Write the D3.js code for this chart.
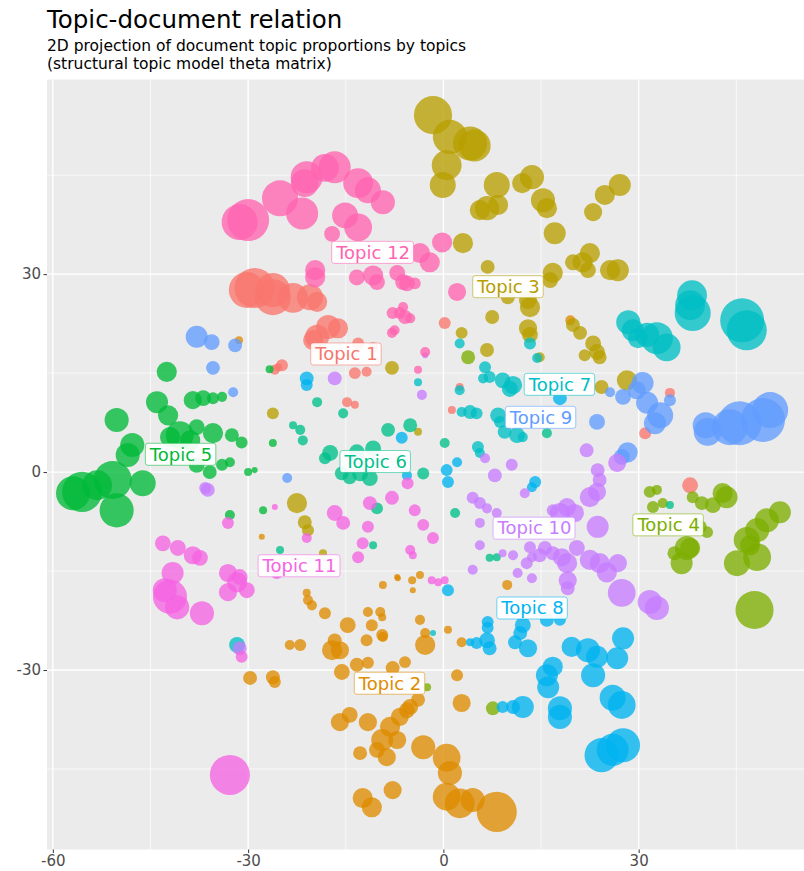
<!DOCTYPE html>
<html>
<head>
<meta charset="utf-8">
<script src="https://cdn.jsdelivr.net/npm/d3@7"></script>
<style>
  html, body { margin: 0; padding: 0; background: #ffffff; }
  svg { display: block; font-family: "DejaVu Sans", sans-serif; }
</style>
</head>
<body>
<svg id="chart" width="804" height="871"></svg>
<script>
// Document positions per topic: [x, y, topic proportion]
const topic1 = [
  [-29.0, 27.9, 0.83], [-30.2, 27.6, 0.67], [-26.2, 26.5, 0.67], [-26.2, 27.6, 0.60],
  [-23.1, 26.4, 0.46], [-20.5, 26.5, 0.35], [-19.4, 25.8, 0.21], [-19.4, 20.5, 0.30],
  [-17.7, 22.0, 0.30], [-16.2, 21.8, 0.21], [-20.0, 20.0, 0.21], [-13.1, 19.5, 0.074],
  [-10.8, 18.9, 0.052], [-24.8, 16.2, 0.074], [-25.9, 15.5, 0.052], [-13.6, 15.0, 0.074],
  [-11.8, 15.2, 0.052], [-14.8, 10.6, 0.052], [-13.6, 10.2, 0.033], [0.2, 22.6, 0.074],
  [34.8, 12.0, 0.052], [31.0, 5.9, 0.074], [37.9, -2.0, 0.13], [1.3, 9.4, 0.033],
  [2.5, 12.9, 0.033], [-25.4, 15.9, 0.033]
];
const topic2 = [
  [-31.4, 20.0, 0.033], [-27.9, -9.8, 0.019], [-9.3, -17.1, 0.033], [-7.1, -15.9, 0.019],
  [-21.0, -18.3, 0.033], [-20.8, -19.4, 0.052], [-20.2, -20.2, 0.052], [-18.2, -21.4, 0.074],
  [-14.7, -23.2, 0.13], [-16.7, -25.5, 0.10], [-17.1, -27.0, 0.21], [-15.9, -27.0, 0.17],
  [-15.6, -30.3, 0.13], [-11.6, -21.2, 0.052], [-11.0, -23.2, 0.074], [-9.7, -21.2, 0.052],
  [-9.4, -24.7, 0.074], [-11.8, -25.5, 0.074], [-13.3, -29.2, 0.10], [-11.6, -28.9, 0.074],
  [-7.8, -29.7, 0.10], [-5.9, -28.8, 0.074], [-29.7, -31.2, 0.10], [-26.2, -31.1, 0.10],
  [-25.9, -31.8, 0.074], [-23.6, -26.2, 0.052], [-22.0, -26.2, 0.074], [-15.9, -37.9, 0.17],
  [-14.4, -36.8, 0.13], [-11.6, -37.9, 0.17], [-12.8, -42.6, 0.10], [-8.2, -38.6, 0.21],
  [-7.1, -40.6, 0.17], [-8.7, -43.2, 0.17], [-10.2, -42.1, 0.13], [-5.6, -36.1, 0.13],
  [-6.7, -37.1, 0.17], [-5.1, -35.6, 0.13], [-3.9, -34.5, 0.10], [-9.4, -40.6, 0.25],
  [-3.1, -41.7, 0.30], [-7.8, -48.2, 0.17], [-12.4, -49.4, 0.21], [-11.0, -50.8, 0.21],
  [0.5, -43.3, 0.40], [1.0, -45.6, 0.30], [0.5, -49.2, 0.40], [2.5, -50.2, 0.46],
  [4.5, -49.7, 0.30], [8.2, -51.5, 0.83], [-4.8, -16.4, 0.033], [-3.6, -15.6, 0.033],
  [-4.7, -17.9, 0.019], [-7.0, -16.1, 0.019], [-3.6, -22.4, 0.052], [-2.8, -24.4, 0.052],
  [-2.8, -26.2, 0.21], [-9.4, -22.0, 0.033], [0.7, -23.9, 0.033], [2.8, -25.8, 0.052],
  [2.1, -30.8, 0.074], [2.8, -35.0, 0.17], [9.8, -17.1, 0.052], [19.5, 23.0, 0.052],
  [-9.3, -25.0, 0.052]
];
const topic3 = [
  [-1.6, 54.1, 0.75], [1.0, 50.8, 0.60], [4.1, 49.8, 0.60], [4.8, 49.5, 0.53],
  [0.5, 46.5, 0.46], [-0.1, 43.5, 0.35], [8.2, 43.5, 0.35], [6.7, 40.0, 0.30],
  [5.6, 39.7, 0.21], [8.4, 40.5, 0.21], [13.6, 44.7, 0.30], [12.1, 43.8, 0.21],
  [15.3, 41.2, 0.30], [15.9, 40.0, 0.21], [17.1, 36.2, 0.25], [27.1, 43.5, 0.25],
  [24.8, 42.0, 0.21], [23.0, 39.4, 0.17], [3.0, 34.7, 0.21], [6.8, 31.1, 0.10],
  [21.4, 31.8, 0.21], [22.5, 33.2, 0.21], [19.9, 31.8, 0.13], [22.2, 30.6, 0.13],
  [25.6, 30.6, 0.21], [26.8, 30.6, 0.25], [16.8, 30.2, 0.21], [16.4, 29.1, 0.13],
  [9.9, 26.5, 0.10], [13.3, 25.0, 0.21], [13.0, 26.1, 0.17], [7.5, 23.5, 0.10],
  [13.0, 21.8, 0.17], [13.3, 20.8, 0.13], [6.7, 18.5, 0.10], [19.9, 22.3, 0.10],
  [21.0, 21.1, 0.10], [23.0, 19.5, 0.13], [23.6, 18.2, 0.13], [21.7, 17.7, 0.074],
  [24.0, 17.4, 0.10], [2.8, 21.1, 0.074], [14.8, 17.4, 0.052], [28.2, 13.9, 0.21],
  [24.3, 12.9, 0.10], [-7.9, 15.8, 0.10], [-26.2, 8.9, 0.074], [-22.5, -4.7, 0.21],
  [-21.3, -7.6, 0.10], [-20.8, -8.8, 0.074], [-18.5, -12.3, 0.033], [-3.9, 6.1, 0.033]
];
const topic4 = [
  [3.8, 17.4, 0.10], [-2.5, -32.6, 0.033], [31.7, -3.0, 0.074], [32.8, -2.7, 0.052],
  [32.2, -5.3, 0.074], [33.7, -4.7, 0.052], [38.3, -3.8, 0.074], [39.7, -4.7, 0.10],
  [41.4, -5.0, 0.13], [43.5, -3.8, 0.25], [42.9, -3.2, 0.21], [39.4, -8.3, 0.10],
  [40.5, -9.1, 0.074], [37.4, -11.5, 0.30], [36.6, -13.8, 0.25], [35.5, -12.3, 0.10],
  [37.9, -11.5, 0.21], [51.7, -6.1, 0.25], [49.7, -7.3, 0.30], [48.2, -8.8, 0.30],
  [46.6, -10.3, 0.35], [45.1, -13.8, 0.35], [48.2, -12.9, 0.40], [47.1, -11.1, 0.21],
  [47.8, -20.9, 0.75], [7.6, -35.8, 0.10]
];
const topic5 = [
  [-42.5, 15.2, 0.21], [-44.0, 10.6, 0.25], [-42.3, 8.6, 0.21], [-50.2, 7.9, 0.30],
  [-38.5, 10.9, 0.17], [-36.9, 11.2, 0.13], [-35.4, 11.2, 0.074], [-34.0, 11.4, 0.052],
  [-37.9, 6.8, 0.13], [-35.4, 5.9, 0.21], [-32.5, 5.6, 0.10], [-31.0, 4.5, 0.074],
  [-40.5, 5.6, 0.40], [-42.0, 5.3, 0.21], [-38.9, 4.8, 0.21], [-47.8, 4.1, 0.30],
  [-48.5, 2.6, 0.30], [-55.5, -3.0, 0.83], [-56.9, -3.2, 0.60], [-50.8, -1.2, 0.75],
  [-50.2, -5.8, 0.60], [-46.2, -1.7, 0.35], [-53.2, -2.0, 0.46], [-37.9, 1.1, 0.13],
  [-35.9, 0.0, 0.10], [-34.0, 1.1, 0.074], [-32.8, 1.5, 0.052], [-30.0, 0.0, 0.033],
  [-29.0, 0.3, 0.019], [-32.8, -6.5, 0.052], [-26.2, 4.4, 0.033], [-26.7, 15.6, 0.033],
  [-27.7, -5.8, 0.033]
];
const topic6 = [
  [-23.1, 7.1, 0.033], [-22.0, 6.4, 0.052], [-21.6, 4.8, 0.052], [-19.4, 10.6, 0.052],
  [-15.4, 8.9, 0.052], [-8.5, 6.4, 0.10], [-5.1, 7.1, 0.10], [-17.4, 2.9, 0.13],
  [-18.2, 2.1, 0.074], [-15.6, -0.2, 0.10], [-14.4, -0.8, 0.10], [-12.8, -0.2, 0.13],
  [-10.8, 3.6, 0.13], [-11.3, -0.9, 0.13], [-13.3, 3.0, 0.13], [-3.1, -0.2, 0.074],
  [0.2, 4.4, 0.052], [7.1, -13.0, 0.033], [8.2, -12.9, 0.033], [-25.1, -11.8, 0.033],
  [-10.2, -5.5, 0.074], [-10.8, -11.1, 0.033], [15.9, 5.9, 0.052], [34.8, -5.0, 0.033],
  [1.8, -6.2, 0.052]
];
const topic7 = [
  [28.4, 22.7, 0.30], [29.1, 21.5, 0.25], [29.9, 20.3, 0.21], [32.8, 20.3, 0.53],
  [34.3, 18.9, 0.40], [31.3, 20.8, 0.30], [38.2, 26.8, 0.46], [38.3, 24.1, 0.67],
  [37.9, 25.3, 0.46], [45.9, 23.0, 1.0], [46.6, 21.5, 0.83], [6.4, 15.9, 0.074],
  [7.1, 14.4, 0.074], [6.1, 14.2, 0.052], [9.1, 13.9, 0.13], [10.7, 13.2, 0.17],
  [10.2, 12.6, 0.13], [8.4, 8.6, 0.13], [9.4, 6.1, 0.10], [11.3, 5.6, 0.13],
  [12.2, 5.3, 0.052], [8.7, 7.6, 0.074], [4.1, 9.1, 0.10], [2.8, 9.1, 0.052],
  [5.1, 8.9, 0.074], [2.5, 12.4, 0.052], [2.5, 19.5, 0.052], [5.3, 3.8, 0.074],
  [5.6, 2.9, 0.052], [13.3, 19.5, 0.074], [14.4, 17.3, 0.052], [-1.6, -24.4, 0.019],
  [-31.7, -26.2, 0.13], [-3.9, 13.6, 0.033]
];
const topic8 = [
  [-21.0, 14.2, 0.10], [-21.0, 13.2, 0.074], [-6.4, 5.2, 0.074], [-5.6, -0.5, 0.052],
  [0.5, 0.3, 0.074], [0.7, -1.5, 0.074], [2.1, 1.5, 0.052], [14.1, -1.5, 0.074],
  [13.6, -2.3, 0.052], [17.9, 11.2, 0.10], [0.7, -17.9, 0.074], [6.8, -22.7, 0.074],
  [6.8, -23.6, 0.074], [6.7, -25.5, 0.13], [7.1, -26.7, 0.10], [5.1, -25.9, 0.074],
  [4.1, -25.8, 0.033], [12.2, -23.2, 0.13], [11.8, -24.4, 0.10], [11.0, -25.8, 0.10],
  [13.0, -26.7, 0.17], [15.9, -22.4, 0.10], [17.9, -22.4, 0.074], [19.7, -26.5, 0.21],
  [22.2, -27.0, 0.30], [23.6, -28.0, 0.25], [26.7, -28.2, 0.25], [27.6, -25.2, 0.25],
  [16.8, -29.5, 0.21], [15.9, -30.8, 0.25], [16.1, -32.6, 0.25], [23.0, -30.8, 0.30],
  [17.9, -35.8, 0.30], [17.9, -37.1, 0.30], [26.0, -34.2, 0.35], [27.4, -35.3, 0.40],
  [9.1, -35.6, 0.074], [10.7, -35.6, 0.10], [12.2, -35.6, 0.25], [24.3, -42.9, 0.60],
  [27.6, -41.4, 0.60], [26.0, -42.1, 0.53]
];
const topic9 = [
  [-37.9, 20.5, 0.25], [-35.6, 19.7, 0.13], [-32.0, 19.2, 0.10], [-35.4, 15.8, 0.10],
  [-32.3, 12.1, 0.052], [-24.0, -0.9, 0.052], [45.5, 7.4, 1.0], [49.1, 7.9, 1.0],
  [50.2, 9.4, 0.67], [44.0, 6.8, 0.67], [40.6, 6.1, 0.40], [40.3, 7.1, 0.35],
  [33.3, 8.6, 0.35], [32.5, 7.4, 0.25], [31.3, 10.5, 0.25], [30.6, 13.5, 0.25],
  [29.7, 12.4, 0.17], [27.6, 11.4, 0.13], [25.6, 12.1, 0.052], [23.6, 7.6, 0.13],
  [28.3, 3.0, 0.21], [27.4, 2.3, 0.13], [34.8, 10.9, 0.074]
];
const topic10 = [
  [-36.2, -2.7, 0.10], [-36.6, -2.4, 0.074], [-16.7, 14.2, 0.10], [-3.3, 11.7, 0.052],
  [-2.8, 17.7, 0.019], [-31.3, -26.7, 0.10], [22.0, 3.3, 0.10], [26.7, 1.4, 0.17],
  [23.7, 0.3, 0.10], [24.0, -1.2, 0.10], [23.6, -3.0, 0.17], [22.5, -3.8, 0.21],
  [19.0, -5.3, 0.17], [17.9, -6.2, 0.21], [20.2, -6.2, 0.17], [16.8, -5.8, 0.074],
  [23.7, -8.3, 0.25], [10.5, 1.1, 0.074], [7.9, -0.5, 0.10], [6.4, 2.1, 0.052],
  [12.5, -3.2, 0.052], [4.5, -3.9, 0.074], [5.6, -4.7, 0.074], [6.7, -5.5, 0.052],
  [8.2, -6.2, 0.052], [5.6, -7.7, 0.052], [5.6, -11.1, 0.052], [4.5, -14.8, 0.052],
  [13.3, -11.4, 0.074], [13.6, -12.9, 0.052], [15.6, -11.5, 0.10], [16.8, -12.3, 0.10],
  [19.0, -13.8, 0.21], [19.1, -16.4, 0.17], [19.1, -17.6, 0.10], [22.5, -13.3, 0.21],
  [24.0, -13.8, 0.21], [25.1, -15.2, 0.21], [26.8, -13.8, 0.17], [20.5, -11.5, 0.13],
  [27.4, -18.3, 0.40], [31.7, -19.7, 0.30], [32.8, -20.6, 0.30], [14.8, -12.6, 0.10],
  [10.7, -12.6, 0.052], [9.1, -12.3, 0.033], [11.4, -15.3, 0.052], [12.8, -13.8, 0.074],
  [13.6, -16.1, 0.052], [18.2, -12.9, 0.17]
];
const topic11 = [
  [-43.1, -10.8, 0.13], [-40.8, -11.5, 0.13], [-38.5, -12.6, 0.17], [-37.4, -13.0, 0.13],
  [-41.6, -15.3, 0.25], [-42.0, -18.9, 0.60], [-42.8, -17.9, 0.30], [-40.9, -20.5, 0.30],
  [-37.1, -21.4, 0.30], [-33.1, -15.3, 0.17], [-31.7, -16.7, 0.21], [-33.1, -18.2, 0.17],
  [-30.2, -17.9, 0.13], [-31.3, -15.9, 0.13], [-31.0, -28.0, 0.074], [-25.6, -15.3, 0.074],
  [-32.8, -45.9, 0.83], [-33.1, -7.7, 0.074], [-25.9, -5.3, 0.019], [-21.0, -10.0, 0.052],
  [-16.7, -6.2, 0.13], [-15.4, -7.7, 0.10], [-11.3, -4.7, 0.10], [-7.9, -3.9, 0.10],
  [-4.4, -5.8, 0.074], [-11.6, -8.3, 0.074], [-12.4, -10.8, 0.074], [-13.1, -12.9, 0.074],
  [-5.5, -1.7, 0.074], [-5.1, -11.8, 0.052], [-4.7, -12.6, 0.033], [-3.1, -8.0, 0.074],
  [-1.6, -10.0, 0.074], [-1.8, -16.4, 0.033], [-0.8, -16.7, 0.033], [0.2, -16.4, 0.033]
];
const topic12 = [
  [-30.0, 38.2, 0.91], [-31.3, 37.9, 0.67], [-25.1, 41.5, 0.67], [-21.7, 39.2, 0.53],
  [-21.0, 44.7, 0.53], [-21.3, 43.8, 0.40], [-16.7, 46.2, 0.53], [-18.2, 46.1, 0.40],
  [-13.1, 43.8, 0.46], [-11.6, 42.7, 0.35], [-9.3, 40.9, 0.30], [-15.1, 38.9, 0.35],
  [-13.1, 37.1, 0.40], [-17.1, 36.1, 0.13], [-19.7, 29.5, 0.21], [-19.7, 30.6, 0.21],
  [-13.3, 29.5, 0.13], [-10.8, 29.8, 0.21], [-10.2, 28.8, 0.13], [-7.1, 30.2, 0.13],
  [-5.6, 28.6, 0.13], [-0.2, 34.8, 0.21], [-2.1, 31.8, 0.21], [-3.6, 33.2, 0.21],
  [-6.2, 28.8, 0.13], [-4.4, 28.6, 0.074], [2.1, 27.3, 0.17], [-6.7, 24.1, 0.074],
  [-5.9, 23.5, 0.10], [-7.8, 24.1, 0.074], [-7.9, 21.1, 0.052], [-6.2, 25.0, 0.052],
  [-5.1, 23.3, 0.052], [-2.8, 18.2, 0.052], [-3.9, 15.5, 0.033], [-7.5, 21.5, 0.052]
];

const topicNames = ["Topic 1", "Topic 2", "Topic 3", "Topic 4", "Topic 5", "Topic 6",
                    "Topic 7", "Topic 8", "Topic 9", "Topic 10", "Topic 11", "Topic 12"];
const topicColors = ["#F8766D", "#DE8C00", "#B79F00", "#7CAE00", "#00BA38", "#00C08B",
                     "#00BFC4", "#00B4F0", "#619CFF", "#C77CFF", "#F564E3", "#FF64B0"];
const topicSeries = [topic1, topic2, topic3, topic4, topic5, topic6,
                     topic7, topic8, topic9, topic10, topic11, topic12];

// Topic label anchor positions
const labelX = [-14.9, -8.2, 10.0, 34.6, -40.3, -10.4, 17.9, 13.7, 15.0, 14.0, -22.1, -10.8];
const labelY = [17.9, -32.0, 28.1, -8.0, 2.7, 1.6, 13.3, -20.6, 8.3, -8.5, -14.2, 33.3];

const xTicks = [-60, -30, 0, 30];
const yTicks = [-30, 0, 30];
const xMinor = [-45, -15, 15, 45];
const yMinor = [-45, -15, 15, 45];

const titleText = "Topic-document relation";
const subtitleLines = ["2D projection of document topic proportions by topics",
                       "(structural topic model theta matrix)"];

// Layout
const svg = d3.select("#chart");
const panel = { left: 47, right: 804, top: 79.5, bottom: 849.5 };

const x = d3.scaleLinear().domain([-60.9, 55.4]).range([panel.left, panel.right]);
const y = d3.scaleLinear().domain([-57.2, 59.5]).range([panel.bottom, panel.top]);
const r = d3.scaleSqrt().domain([0, 1]).range([0, 22]);

// Title and two-line subtitle
svg.append("text")
  .attr("x", 47).attr("y", 28)
  .attr("font-size", 24.5).attr("fill", "#000")
  .text(titleText);

svg.append("g").selectAll("text")
  .data(subtitleLines).join("text")
  .attr("x", 47).attr("y", (d, i) => 51 + i * 18)
  .attr("font-size", 15.5).attr("fill", "#000")
  .text(d => d);

// Panel background and grid
svg.append("rect")
  .attr("x", panel.left).attr("y", panel.top)
  .attr("width", panel.right - panel.left).attr("height", panel.bottom - panel.top)
  .attr("fill", "#EBEBEB");

const grid = svg.append("g");
grid.selectAll(".xminor").data(xMinor).join("line")
  .attr("x1", d => x(d)).attr("x2", d => x(d))
  .attr("y1", panel.top).attr("y2", panel.bottom)
  .attr("stroke", "#fff").attr("stroke-width", 0.7);
grid.selectAll(".yminor").data(yMinor).join("line")
  .attr("y1", d => y(d)).attr("y2", d => y(d))
  .attr("x1", panel.left).attr("x2", panel.right)
  .attr("stroke", "#fff").attr("stroke-width", 0.7);
grid.selectAll(".xmajor").data(xTicks).join("line")
  .attr("x1", d => x(d)).attr("x2", d => x(d))
  .attr("y1", panel.top).attr("y2", panel.bottom)
  .attr("stroke", "#fff").attr("stroke-width", 1.4);
grid.selectAll(".ymajor").data(yTicks).join("line")
  .attr("y1", d => y(d)).attr("y2", d => y(d))
  .attr("x1", panel.left).attr("x2", panel.right)
  .attr("stroke", "#fff").attr("stroke-width", 1.4);

// Points
const clipId = "panel-clip";
svg.append("clipPath").attr("id", clipId).append("rect")
  .attr("x", panel.left).attr("y", panel.top)
  .attr("width", panel.right - panel.left).attr("height", panel.bottom - panel.top);

const pts = [];
topicSeries.forEach((series, ti) => {
  series.forEach(p => pts.push({ x: p[0], y: p[1], prop: p[2], topic: ti }));
});

svg.append("g").attr("clip-path", `url(#${clipId})`)
  .selectAll("circle").data(pts).join("circle")
  .attr("cx", d => x(d.x)).attr("cy", d => y(d.y))
  .attr("r", d => r(d.prop))
  .attr("fill", d => topicColors[d.topic])
  .attr("fill-opacity", 0.78);

// Axes (plain hyphen for negative tick labels)
const fmt = d => String(d);
const xAxis = d3.axisBottom(x).tickValues(xTicks).tickFormat(fmt).tickSize(3.5).tickPadding(2.5);
const yAxis = d3.axisLeft(y).tickValues(yTicks).tickFormat(fmt).tickSize(3.5).tickPadding(2.5);

const gx = svg.append("g").attr("transform", `translate(0,${panel.bottom})`).call(xAxis);
const gy = svg.append("g").attr("transform", `translate(${panel.left},0)`).call(yAxis);
[gx, gy].forEach(g => {
  g.select(".domain").remove();
  g.selectAll(".tick line").attr("stroke", "#333333").attr("stroke-width", 1);
  g.selectAll(".tick text").attr("fill", "#4D4D4D")
    .attr("font-size", 15).attr("font-family", "DejaVu Sans, sans-serif");
});

// Topic labels
const labels = svg.append("g").selectAll("g")
  .data(topicNames.map((name, i) => ({ name, i })))
  .join("g")
  .attr("transform", d => `translate(${x(labelX[d.i])},${y(labelY[d.i])})`);

labels.append("text")
  .attr("text-anchor", "middle")
  .attr("dy", "0.35em")
  .attr("font-size", 18)
  .attr("fill", d => topicColors[d.i])
  .text(d => d.name)
  .each(function (d) {
    const bb = this.getBBox();
    d3.select(this.parentNode).insert("rect", "text")
      .attr("x", bb.x - 3.5).attr("y", -11)
      .attr("width", bb.width + 7).attr("height", 22)
      .attr("rx", 2.5).attr("ry", 2.5)
      .attr("fill", "#ffffff").attr("fill-opacity", 0.92)
      .attr("stroke", topicColors[d.i]).attr("stroke-opacity", 0.55)
      .attr("stroke-width", 1);
  });
</script>
</body>
</html>
